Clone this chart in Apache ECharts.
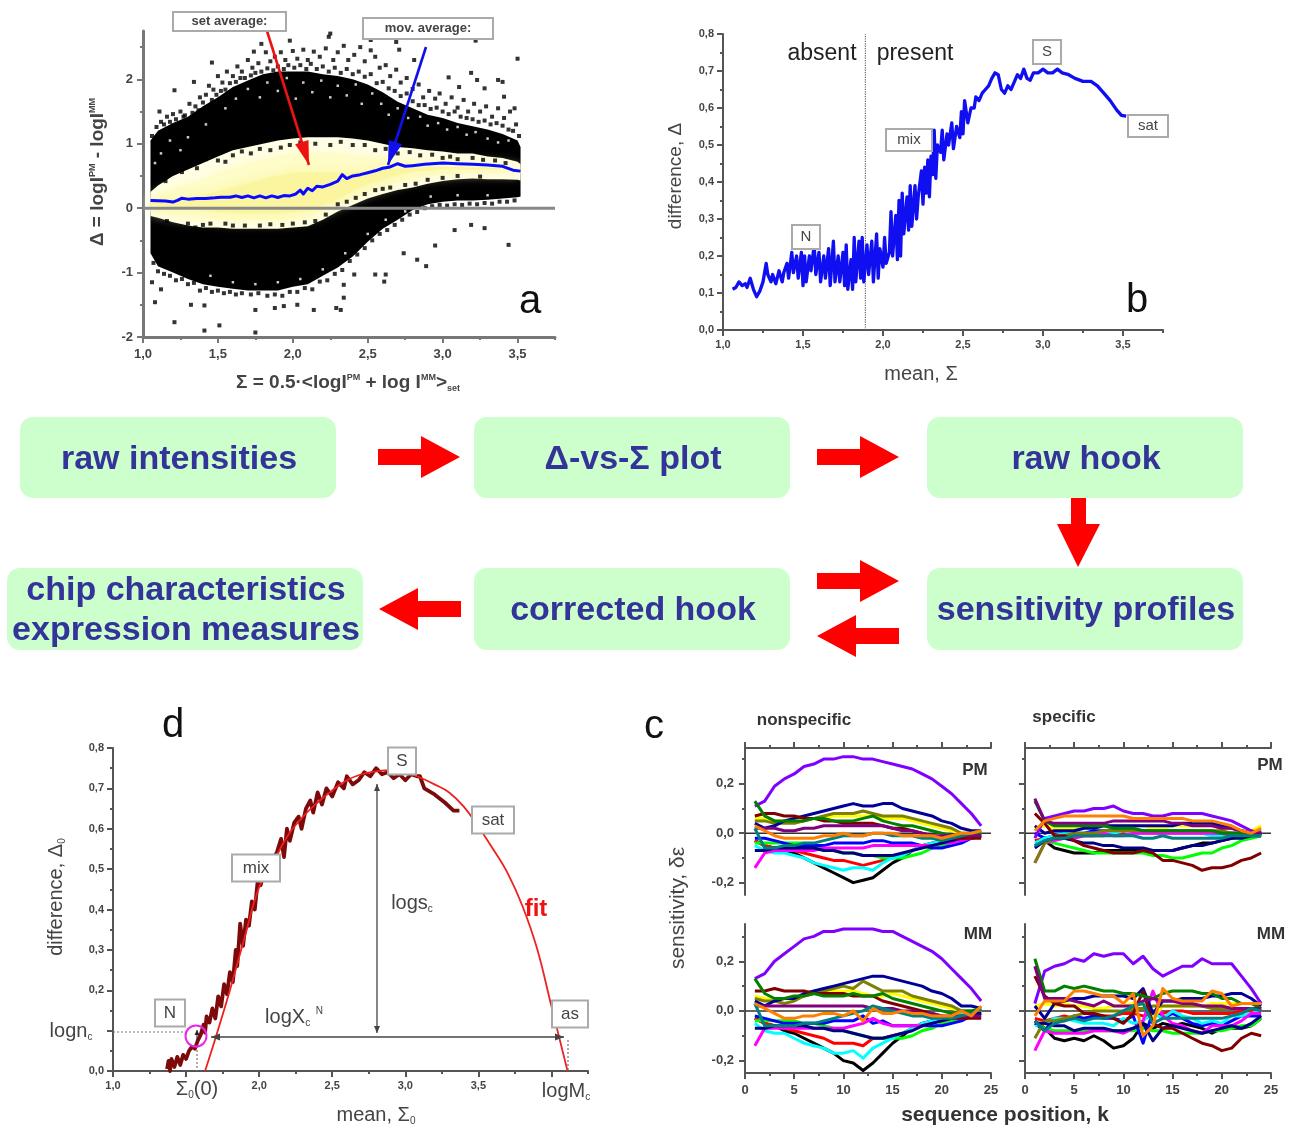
<!DOCTYPE html>
<html><head><meta charset="utf-8">
<script src="https://cdn.jsdelivr.net/npm/echarts@6/dist/echarts.min.js"></script>
<style>html,body{margin:0;background:#fff}#c{width:1291px;height:1129px;filter:blur(.6px)}</style>
</head><body><div id="c"></div>
<script>
// ---------- panel a ----------
const sigmaA=[1.05,1.1,1.2,1.3,1.4,1.5,1.6,1.7,1.8,1.9,2.0,2.1,2.2,2.3,2.4,2.5,2.6,2.7,2.8,2.9,3.0,3.1,3.2,3.3,3.4,3.5,3.52];
const upperOuter=[1.05,1.2,1.32,1.42,1.58,1.72,1.88,1.98,2.08,2.12,2.12,2.12,2.08,2.05,2.0,1.92,1.8,1.65,1.55,1.45,1.4,1.32,1.27,1.22,1.15,1.05,.95];
const upperInner=[.25,.35,.5,.6,.7,.8,.9,.95,1.0,1.05,1.08,1.1,1.1,1.1,1.08,1.05,1.0,.95,.93,.9,.88,.85,.85,.8,.78,.72,.68];
const lowerInner=[-.12,-.15,-.22,-.27,-.3,-.3,-.32,-.32,-.32,-.32,-.3,-.28,-.18,-.05,.05,.15,.22,.28,.32,.38,.42,.45,.46,.45,.45,.44,.43];
const lowerOuter=[-.7,-.9,-1.0,-1.1,-1.18,-1.22,-1.25,-1.28,-1.28,-1.28,-1.22,-1.18,-1.05,-.92,-.75,-.52,-.32,-.18,-.03,.06,.1,.12,.12,.13,.15,.17,.18];
const midTop=[.15,.2,.3,.38,.45,.55,.62,.7,.75,.8,.85,.85,.85,.85,.82,.8,.78,.75,.73,.72,.7,.7,.68,.68,.66,.62,.6];
const midBot=[-.05,-.08,-.12,-.15,-.17,-.18,-.2,-.2,-.2,-.2,-.18,-.15,-.05,.05,.15,.25,.32,.4,.45,.5,.52,.54,.55,.55,.54,.54,.54];
const coreTop=[.1,.12,.14,.16,.2,.26,.32,.38,.45,.5,.55,.55,.55,.55,.55,.58,.6,.62,.62,.64,.64,.64,.63,.63,.61,.58,.56];
const coreBot=[.05,.04,.02,0,-.02,-.05,-.07,-.08,-.08,-.08,-.06,-.03,.04,.14,.27,.37,.44,.52,.56,.58,.6,.6,.6,.6,.6,.57,.55];
const outliersA=[[2.25,2.71],[2.24,2.66],[1.79,2.55],[1.98,2.6],[1.74,2.43],[2.52,2.61],[2.69,2.58],[2.71,2.46],[3.22,2.6],[3.5,2.32],[1.46,2.26],[1.34,1.96],[1.21,1.83],[1.11,1.5],[2.81,2.3],[3.19,2.1],[3.04,2.03],[3.23,1.99],[3.4,1.96],[3.37,1.99],[3.11,1.88],[3.28,1.86],[3.41,1.73],[3.48,1.55],[3.44,-.57],[2.95,-.58],[2.89,-.9],[3.28,-.31],[3.19,-.26],[3.08,-.34],[2.83,-.8],[2.74,-.7],[2.62,-1.03],[2.61,-1.14],[2.55,-1.03],[2.41,-1.03],[2.34,-1.19],[2.34,-1.39],[2.32,-1.58],[2.29,-1.55],[2.14,-1.58],[2.03,-1.5],[1.88,-1.55],[1.94,-1.52],[1.75,-1.58],[1.75,-1.93],[1.51,-1.82],[1.41,-1.9],[1.21,-1.77],[1.08,-1.46],[1.32,-1.5],[1.41,-1.51],[1.12,-1.26],[1.06,-1.15],
[1.12,1.34],[1.16,1.42],[1.2,1.46],[1.25,1.5],[1.28,1.44],[1.31,1.62],[1.35,1.58],[1.38,1.72],[1.42,1.76],[1.44,1.9],[1.47,1.84],[1.5,2.05],[1.53,1.95],[1.56,2.12],[1.6,2.05],[1.63,2.2],[1.66,2.12],[1.7,2.3],[1.73,2.18],[1.77,2.25],[1.82,2.42],[1.85,2.28],[1.88,2.35],[1.92,2.42],[1.95,2.3],[2.0,2.44],[2.03,2.32],[2.07,2.46],[2.1,2.3],[2.14,2.43],[2.18,2.35],[2.22,2.48],[2.27,2.3],[2.3,2.42],[2.34,2.52],[2.37,2.3],[2.41,2.38],[2.45,2.5],[2.48,2.28],[2.52,2.45],[2.55,2.35],[2.58,2.18],[2.62,2.22],[2.65,2.05],[2.69,2.15],[2.72,1.95],[2.76,2.02],[2.8,1.85],[2.84,1.92],[2.87,1.72],[2.91,1.82],[2.95,1.7],[2.98,1.78],[3.02,1.62],[3.06,1.72],[3.1,1.56],[3.14,1.68],[3.17,1.5],[3.21,1.62],[3.25,1.5],[3.29,1.58],[3.33,1.42],[3.37,1.55],[3.41,1.4],[3.45,1.5],[3.49,1.3],
[1.06,1.12],[1.09,1.26],[1.14,1.3],[1.18,1.34],[1.22,1.38],[1.27,1.42],[1.33,1.48],[1.37,1.52],[1.4,1.64],[1.46,1.68],[1.49,1.76],[1.52,1.82],[1.55,1.84],[1.58,1.94],[1.62,1.96],[1.65,2.02],[1.68,2.02],[1.72,2.06],[1.75,2.1],[1.79,2.12],[1.83,2.17],[1.87,2.14],[1.9,2.2],[1.94,2.16],[1.97,2.22],[2.01,2.18],[2.05,2.22],[2.09,2.16],[2.12,2.24],[2.16,2.16],[2.2,2.2],[2.24,2.12],[2.28,2.18],[2.32,2.1],[2.36,2.16],[2.4,2.08],[2.44,2.12],[2.48,2.04],[2.52,2.08],[2.56,1.94],[2.6,1.96],[2.64,1.86],[2.68,1.82],[2.72,1.74],[2.76,1.78],[2.8,1.66],[2.84,1.6],[2.88,1.6],[2.92,1.54],[2.96,1.56],[3.0,1.5],[3.04,1.46],[3.08,1.5],[3.12,1.42],[3.16,1.4],[3.2,1.38],[3.24,1.34],[3.28,1.36],[3.32,1.3],[3.36,1.32],[3.4,1.28],[3.44,1.22],[3.47,1.2],[3.51,1.12],
[1.07,-.85],[1.1,-.98],[1.14,-1.02],[1.18,-1.05],[1.22,-1.12],[1.26,-1.1],[1.3,-1.18],[1.34,-1.16],[1.38,-1.28],[1.42,-1.24],[1.46,-1.3],[1.5,-1.28],[1.54,-1.32],[1.58,-1.3],[1.62,-1.34],[1.66,-1.32],[1.72,-1.34],[1.77,-1.32],[1.83,-1.36],[1.88,-1.34],[1.93,-1.36],[1.98,-1.3],[2.03,-1.3],[2.08,-1.24],[2.13,-1.26],[2.18,-1.14],[2.23,-1.12],[2.28,-1.02],[2.33,-.96],[2.38,-.82],[2.43,-.72],[2.48,-.62],[2.53,-.5],[2.58,-.4],[2.63,-.34],[2.68,-.26],[2.73,-.18],[2.78,-.1],[2.83,-.06],[2.88,0],[2.93,.03],[2.98,.05],[3.03,.04],[3.08,.06],[3.13,.05],[3.18,.07],[3.23,.06],[3.28,.08],[3.33,.07],[3.38,.1],[3.43,.1],[3.48,.12],
[1.1,.5],[1.2,.6],[1.3,.72],[1.36,.62],[1.45,.8],[1.55,.72],[1.6,.82],[1.72,.85],[1.85,.9],[1.98,.98],[2.15,1.0],[2.25,.98],[2.4,.98],[2.55,.9],[2.7,.85],[2.85,.82],[3.0,.78],[3.1,.76],[3.2,.78],[3.35,.74],[1.15,.42],[1.26,.56],[1.42,.76],[1.5,.74],[1.66,.88],[1.78,.92],[1.92,.94],[2.05,1.02],[2.32,1.03],[2.48,.98],[2.62,.92],[2.78,.87],[2.93,.83],[3.05,.8],[3.27,.75],[3.42,.7],
[1.1,-.28],[1.22,-.35],[1.35,-.3],[1.45,-.24],[1.55,-.24],[1.68,-.27],[1.85,-.25],[2.0,-.24],[2.15,-.2],[2.3,.06],[2.42,.16],[2.55,.28],[2.65,.32],[2.75,.36],[2.9,.44],[3.1,.5],[1.16,-.2],[1.3,-.24],[1.4,-.26],[1.6,-.27],[1.78,-.27],[1.93,-.26],[2.08,-.22],[2.22,-.1],[2.36,.1],[2.48,.22],[2.6,.3],[2.82,.38],[3.0,.47],[3.25,.49]];
const gapsA=[[1.3,1.1],[1.42,1.3],[1.55,1.55],[1.62,1.7],[1.7,1.85],[1.78,1.72],[1.83,1.95],[1.9,1.82],[1.96,2.02],[2.02,1.7],[2.07,1.95],[2.13,1.8],[2.19,1.98],[2.25,1.72],[2.3,1.9],[2.36,1.75],[2.42,1.92],[2.46,1.62],[2.53,1.78],[2.59,1.62],[2.64,1.45],[2.7,1.55],[2.77,1.4],[2.85,1.42],[2.9,1.28],[2.97,1.32],[3.03,1.22],[3.1,1.26],[3.16,1.14],[3.22,1.18],[3.3,1.08],[3.37,1.02],[3.44,1.05],[1.45,-1.05],[1.6,-1.15],[1.75,-1.18],[1.9,-1.15],[2.05,-1.1],[2.2,-.95],[2.35,-.7],[2.5,-.4],[2.62,-.18],[2.75,-.05],[2.92,.18],[3.1,.2],[3.3,.2],[1.12,.85],[1.18,1.05],[1.25,.9],[1.08,.7]];
const hookA=[[1.05,.12],[1.1,.115],[1.15,.11],[1.2,.095],[1.23,.12],[1.26,.155],[1.3,.14],[1.36,.15],[1.42,.15],[1.48,.16],[1.52,.17],[1.58,.17],[1.62,.19],[1.66,.165],[1.7,.19],[1.74,.16],[1.78,.19],[1.82,.16],[1.86,.19],[1.9,.165],[1.94,.195],[1.98,.19],[2.02,.22],[2.05,.28],[2.07,.22],[2.1,.31],[2.13,.27],[2.16,.34],[2.2,.33],[2.25,.37],[2.3,.42],[2.33,.52],[2.36,.46],[2.4,.5],[2.45,.52],[2.5,.55],[2.55,.58],[2.6,.62],[2.65,.64],[2.7,.69],[2.75,.65],[2.8,.66],[2.88,.68],[3.0,.7],[3.1,.69],[3.2,.68],[3.3,.67],[3.4,.65],[3.47,.59],[3.52,.575]];
const zeroA=[[1,0],[3.75,0]];
// ---------- panel b ----------
const hookB=[[1.06,.11],[1.08,.115],[1.1,.13],[1.12,.12],[1.14,.125],[1.15,.115],[1.17,.14],[1.19,.11],[1.21,.09],[1.23,.105],[1.25,.13],[1.27,.18],[1.28,.15],[1.3,.13],[1.31,.15],[1.33,.125],[1.35,.16],[1.37,.13],[1.38,.155],[1.4,.18],[1.41,.14],[1.43,.21],[1.44,.155],[1.46,.2],[1.47,.14],[1.49,.21],[1.5,.12],[1.51,.2],[1.52,.13],[1.54,.2],[1.55,.16],[1.57,.23],[1.58,.15],[1.6,.21],[1.61,.13],[1.63,.2],[1.64,.14],[1.66,.22],[1.67,.12],[1.69,.24],[1.7,.13],[1.72,.2],[1.73,.13],[1.75,.21],[1.76,.12],[1.77,.23],[1.78,.11],[1.8,.19],[1.81,.11],[1.82,.25],[1.83,.13],[1.85,.24],[1.86,.14],[1.87,.25],[1.88,.13],[1.9,.23],[1.91,.15],[1.93,.24],[1.94,.13],[1.96,.26],[1.97,.14],[1.98,.22],[2,.17],[2.01,.25],[2.02,.18],[2.04,.21],[2.05,.32],[2.06,.2],[2.08,.31],[2.09,.19],[2.1,.35],[2.11,.2],[2.12,.37],[2.13,.26],[2.15,.36],[2.16,.27],[2.17,.39],[2.18,.28],[2.2,.39],[2.21,.3],[2.22,.36],[2.24,.43],[2.25,.34],[2.26,.44],[2.27,.37],[2.28,.46],[2.29,.36],[2.3,.47],[2.31,.42],[2.32,.54],[2.33,.41],[2.34,.5],[2.36,.48],[2.37,.54],[2.38,.46],[2.4,.53],[2.41,.5],[2.43,.56],[2.44,.49],[2.46,.55],[2.48,.52],[2.49,.59],[2.5,.53],[2.51,.62],[2.53,.56],[2.55,.6],[2.57,.6],[2.58,.63],[2.6,.62],[2.62,.64],[2.64,.65],[2.66,.66],[2.68,.68],[2.7,.695],[2.72,.69],[2.74,.65],[2.76,.64],[2.78,.66],[2.8,.65],[2.82,.67],[2.84,.69],[2.86,.68],[2.88,.705],[2.9,.68],[2.92,.675],[2.94,.695],[2.97,.695],[3,.705],[3.03,.695],[3.06,.695],[3.09,.705],[3.12,.695],[3.16,.69],[3.2,.68],[3.25,.672],[3.3,.672],[3.34,.66],[3.38,.64],[3.42,.62],[3.46,.595],[3.49,.58],[3.52,.578]];
const presentLine=[[1.89,0],[1.89,.8]];
// ---------- panel d ----------
const hookD=[[1.37,.005],[1.38,.025],[1.39,0],[1.4,.03],[1.42,.01],[1.44,.035],[1.46,.015],[1.48,.04],[1.5,.03],[1.52,.05],[1.54,.06],[1.56,.055],[1.58,.075],[1.6,.09],[1.62,.115],[1.63,.095],[1.64,.135],[1.66,.12],[1.68,.155],[1.7,.13],[1.72,.185],[1.74,.16],[1.76,.215],[1.78,.19],[1.8,.245],[1.82,.22],[1.84,.3],[1.85,.26],[1.87,.365],[1.89,.31],[1.91,.375],[1.93,.36],[1.95,.42],[1.97,.4],[1.99,.47],[2.01,.46],[2.03,.49],[2.06,.51],[2.1,.53],[2.12,.54],[2.15,.575],[2.17,.53],[2.19,.6],[2.21,.57],[2.24,.615],[2.27,.63],[2.29,.6],[2.32,.65],[2.35,.67],[2.37,.64],[2.4,.69],[2.43,.66],[2.46,.7],[2.5,.68],[2.54,.715],[2.58,.7],[2.6,.73],[2.64,.71],[2.68,.72],[2.72,.74],[2.76,.73],[2.8,.75],[2.84,.735],[2.88,.74],[2.92,.725],[2.96,.735],[3,.72],[3.04,.735],[3.08,.73],[3.1,.73],[3.13,.7],[3.2,.685],[3.27,.665],[3.33,.645],[3.37,.645]];
const fitD=[[1.63,0],[1.7,.08],[1.8,.2],[1.9,.33],[2,.455],[2.1,.52],[2.2,.585],[2.3,.63],[2.4,.665],[2.5,.695],[2.6,.72],[2.7,.735],[2.8,.742],[2.9,.745],[3,.74],[3.1,.727],[3.2,.71],[3.3,.69],[3.4,.655],[3.5,.605],[3.6,.55],[3.7,.49],[3.8,.41],[3.9,.305],[4,.16],[4.11,0]];
// ---------- panel c (values in 0.01 units), k = 1..24 ----------
const positions=[1,2,3,4,5,6,7,8,9,10,11,12,13,14,15,16,17,18,19,20,21,22,23,24];
const lineNames=['black','red','lime','blue','cyan','magenta','yellow','olive','navy2','navy1','violet','wine','green','plum','teal','orange'];
const lineColors={black:'#000000',red:'#ff0000',lime:'#00ff00',blue:'#0000ff',cyan:'#00ffff',magenta:'#ff00ff',yellow:'#ffff00',olive:'#808000',navy2:'#000080',navy1:'#000099',violet:'#8000ff',wine:'#800000',green:'#008000',plum:'#800080',teal:'#008080',orange:'#ff8000'};
const pmNonspecific={
violet:[11,13,19,22,24,27,28,30,30,31,31,30,30,29,28,27,26,24,22,19,16,12,8,3],
navy1:[4,2,3,5,6,7,8,9,10,11,12,11,11,12,12,10,9,8,7,5,4,2,1,1],
olive:[5,5,4,4,4,5,6,7,8,8,8,9,8,7,7,7,6,5,4,3,2,0,0,0],
yellow:[6,6,5,5,5,5,6,6,7,7,7,7,7,6,6,6,5,4,3,2,1,0,0,0],
green:[13,7,5,5,5,5,6,6,5,5,5,6,7,5,4,3,3,2,1,0,-1,-1,0,0],
wine:[7,8,8,7,7,6,6,5,5,4,4,4,4,3,2,2,1,0,-1,-2,-2,-2,-2,-2],
plum:[2,2,2,1,1,2,2,3,3,3,3,3,3,3,2,1,1,0,-1,-1,-1,-1,-1,-1],
orange:[3,1,-1,-2,-2,-2,-2,-1,-1,0,-1,-1,0,0,0,-1,-1,-1,-1,-2,-1,0,0,1],
teal:[2,-6,-6,-5,-5,-4,-4,-3,-2,-1,-1,-1,0,0,-1,-1,-1,-2,-2,-3,-2,-1,0,1],
blue:[-2,-2,-3,-4,-5,-5,-5,-5,-4,-4,-4,-4,-3,-3,-4,-4,-4,-5,-6,-6,-5,-4,-2,-1],
magenta:[-14,-8,-7,-7,-7,-7,-7,-6,-6,-6,-6,-6,-5,-5,-5,-5,-5,-5,-5,-4,-4,-3,-2,-1],
navy2:[-7,-7,-6,-6,-6,-6,-6,-7,-7,-8,-8,-9,-9,-9,-9,-8,-7,-6,-5,-4,-3,-2,-1,-1],
lime:[-4,-4,-4,-4,-4,-4,-5,-6,-7,-8,-8,-9,-9,-10,-10,-10,-9,-8,-6,-5,-4,-3,-2,-1],
red:[-3,-5,-6,-7,-7,-8,-9,-10,-11,-11,-12,-13,-12,-11,-10,-9,-7,-5,-4,-3,-2,-2,-1,-1],
cyan:[-5,-7,-8,-8,-9,-10,-12,-13,-14,-15,-14,-14,-15,-12,-10,-9,-7,-5,-4,-3,-2,-1,-1,0],
black:[-3,-5,-6,-7,-8,-10,-12,-14,-16,-18,-20,-19,-18,-15,-12,-10,-7,-5,-4,-3,-2,-2,-1,0]};
const mmNonspecific={
violet:[13,15,20,23,26,29,30,32,32,33,33,33,33,32,32,30,28,26,24,21,17,13,9,4],
navy1:[4,2,4,5,5,7,8,9,10,11,12,13,14,14,13,12,11,10,8,7,5,2,2,1],
olive:[5,4,4,3,4,6,7,8,9,10,9,12,10,8,8,8,6,5,4,3,2,0,0,0],
yellow:[6,5,5,5,5,6,7,7,8,8,8,7,6,6,7,6,5,4,3,2,1,0,-1,0],
green:[13,7,5,5,6,6,7,6,6,6,7,6,6,7,5,4,3,2,1,0,-1,0,0,1],
wine:[8,8,9,8,8,8,7,7,7,7,6,6,6,4,3,2,1,0,-1,-2,-3,-3,-3,-3],
plum:[2,2,2,2,2,2,2,2,2,2,2,2,1,1,1,0,0,-1,-1,-2,-2,-2,-2,-2],
orange:[3,1,-1,-3,-3,-2,-2,-1,-1,-2,0,-4,1,-1,-1,0,-1,-1,-2,-2,-2,0,-2,2],
teal:[3,-6,-6,-6,-6,-5,-5,-4,-3,-2,-1,0,2,1,0,-1,-2,-2,-3,-3,-3,-2,-1,1],
blue:[-2,-3,-4,-5,-5,-5,-5,-5,-4,-4,-4,-2,-5,-4,-6,-6,-6,-6,-6,-6,-5,-4,-2,-1],
magenta:[-14,-7,-7,-7,-7,-7,-7,-7,-7,-7,-6,-5,-3,-5,-6,-6,-6,-6,-5,-4,-3,-3,-2,-2],
navy2:[-7,-7,-6,-6,-6,-6,-7,-7,-8,-8,-9,-10,-11,-11,-10,-9,-8,-6,-5,-4,-3,-2,-1,-1],
lime:[-4,-4,-4,-4,-4,-5,-5,-6,-7,-8,-9,-10,-11,-11,-11,-11,-10,-8,-7,-5,-4,-3,-2,-1],
red:[-3,-5,-6,-7,-8,-9,-10,-11,-13,-13,-13,-14,-11,-11,-10,-9,-7,-5,-4,-3,-2,-2,-1,-1],
cyan:[-5,-8,-9,-9,-11,-13,-14,-15,-17,-17,-16,-19,-15,-13,-11,-9,-7,-5,-4,-3,-2,-1,0,0],
black:[-3,-5,-6,-8,-9,-11,-13,-15,-17,-20,-21,-24,-21,-17,-13,-10,-7,-5,-4,-3,-2,-2,-1,0]};
const pmSpecific={
violet:[-2,6,7,8,9,9,10,10,11,9,8,8,7,7,8,8,8,8,7,6,5,3,1,0],
orange:[1,5,6,7,7,7,7,7,7,7,6,6,6,6,6,6,5,5,5,4,3,1,0,2],
green:[13,5,3,3,3,3,3,3,2,2,2,1,1,1,1,1,1,1,1,0,0,0,0,-1],
wine:[8,4,-1,-1,-3,-5,-6,-7,-8,-8,-8,-7,-8,-11,-11,-12,-13,-15,-14,-14,-13,-11,-10,-8],
plum:[14,5,4,4,4,4,4,4,5,5,5,5,5,5,4,4,3,3,3,2,2,1,0,0],
yellow:[2,3,2,2,2,3,3,3,3,3,3,3,2,2,3,3,3,3,3,2,2,1,1,3],
navy1:[3,0,1,1,1,2,2,3,3,3,3,3,3,3,3,4,4,4,4,3,2,1,0,0],
blue:[0,-2,-1,0,0,0,1,1,1,1,1,1,1,1,1,1,1,0,0,0,0,0,0,0],
cyan:[-4,-2,-1,0,0,0,0,0,0,1,0,0,0,0,0,0,0,0,-1,-1,-1,0,0,0],
magenta:[-12,-4,-3,-2,-2,-1,-1,0,-1,-1,0,0,0,0,0,0,0,0,0,0,-1,-1,0,0],
teal:[-5,-3,-2,-2,-1,-1,-1,-1,-1,-1,-1,-2,-2,-1,-2,-2,-2,-2,-2,-2,-1,-1,-1,-1],
navy2:[-6,-3,-2,-2,-3,-4,-4,-5,-5,-6,-6,-6,-7,-7,-7,-6,-5,-5,-4,-3,-2,-2,-1,-1],
black:[-5,-3,-6,-7,-8,-8,-8,-7,-7,-7,-7,-7,-7,-7,-7,-6,-5,-4,-4,-3,-2,-1,-1,0],
lime:[-5,-3,-4,-5,-6,-7,-8,-8,-8,-8,-8,-8,-9,-9,-10,-10,-9,-8,-8,-6,-5,-3,-2,-1],
olive:[-12,-4,-2,-1,0,0,0,1,1,1,1,1,1,1,1,1,1,1,1,1,0,0,0,1],
red:[-3,-2,-2,-1,-1,-1,-1,-1,0,0,0,0,0,0,0,0,0,0,0,0,0,0,0,0]};
const mmSpecific={
violet:[3,16,18,19,21,20,23,22,23,23,19,22,17,14,16,18,18,21,19,19,19,14,9,3],
green:[21,8,8,10,9,10,9,8,8,7,7,6,5,7,8,8,8,7,7,5,5,3,3,1],
orange:[-2,4,4,4,8,8,7,6,6,3,7,-10,-6,9,5,4,4,4,8,7,2,3,3,3],
wine:[14,6,3,2,2,-1,-1,-2,-3,-5,-1,8,-5,-7,-7,-9,-11,-13,-14,-16,-15,-11,-9,-10],
plum:[18,5,5,5,4,3,2,4,2,2,2,4,5,4,4,3,3,2,2,2,1,1,1,1],
navy1:[2,-3,3,4,5,5,6,6,6,6,5,9,-1,4,4,5,5,5,6,6,7,7,5,2],
blue:[-5,-8,-3,-4,-2,-3,-2,-3,-3,-4,-2,-13,0,-3,-1,-3,-5,-6,-5,-6,-4,-2,-2,-2],
cyan:[-6,-5,-3,-3,-4,-5,-5,-5,-6,-3,-5,-4,-1,-3,0,-2,-3,-5,-4,-5,-2,-2,-1,0],
magenta:[-16,-8,-9,-9,-9,-9,-8,-8,-8,-9,-7,-4,8,-2,-5,-6,-8,-9,-6,-6,-6,-4,-1,-1],
navy2:[-5,-5,-6,-6,-8,-7,-7,-7,-8,-8,-7,-5,-12,-7,-6,-7,-8,-9,-8,-7,-6,-7,-5,-2],
black:[-4,-7,-11,-12,-11,-12,-10,-12,-15,-14,-11,-5,-7,-5,-6,-5,-6,-7,-9,-7,-7,-7,-6,-3],
teal:[-4,-8,-5,-4,-3,-4,-3,-3,-2,0,2,3,-5,-3,-3,-3,-3,-3,-3,-3,-2,-1,1,0],
lime:[-5,-7,-8,-8,-8,-8,-8,-8,-8,-8,-8,-7,-8,-8,-9,-9,-9,-9,-8,-8,-7,-6,-6,-3],
red:[-3,-4,-3,-2,-3,-3,-2,-2,-2,-1,-1,-2,-2,-1,0,0,-1,-1,-1,-1,-1,0,0,1],
yellow:[2,3,2,3,2,2,1,1,2,2,3,3,-3,2,2,2,2,2,3,3,3,3,3,3],
olive:[-11,-4,-4,-3,-2,-1,0,0,0,0,1,1,2,2,2,2,2,2,1,1,1,1,1,1]};
// ---------- ticks ----------
const ticksA=[1,1.5,2,2.5,3,3.5],minorA=[1.25,1.75,2.25,2.75,3.25,3.75];
const ticksAy=[-2,-1,0,1,2],minorAy=[-1.5,-.5,.5,1.5,2.5];
const ticksBy=[0,.1,.2,.3,.4,.5,.6,.7,.8],minorBy=[.05,.15,.25,.35,.45,.55,.65,.75];
const ticksDx=[1,1.5,2,2.5,3,3.5,4],labelsDx=[1,2,2.5,3,3.5],minorDx=[1.25,1.75,2.25,2.75,3.25,3.75,4.25];
const labelsDy=[0,.2,.3,.4,.5,.6,.7,.8];
const ticksC=[-.2,0,.2],minorC=[-.1,.1,.3];
const ticksK=[0,5,10,15,20,25],minorK=[2.5,7.5,12.5,17.5,22.5];
// ---------- helpers ----------
const FONT='"Liberation Sans",Arial,sans-serif';
const comma=v=>v.toFixed(1).replace('.',',');
const grid=[],xAxis=[],yAxis=[],series=[];
function panel(box,xc,yc,AX,AW){
  AX=AX||'#555';AW=AW||2;
  const g=grid.length;
  grid.push({left:box[0],top:box[1],width:box[2]-box[0],height:box[3]-box[1]});
  const ix=xAxis.length,iy=yAxis.length;
  const base=(c,pos)=>({gridIndex:g,type:'value',min:c.min,max:c.max,position:pos,scale:true,splitLine:{show:false},silent:true});
  xAxis.push({...base(xc,xc.pos||'bottom'),axisLine:{show:true,onZero:false,lineStyle:{color:AX,width:AW}},
    axisTick:{show:true,customValues:xc.major,length:6,lineStyle:{color:AX,width:2}},
    axisLabel:xc.labels?{show:true,customValues:xc.labels,formatter:xc.fmt||(v=>comma(v)),fontFamily:FONT,fontWeight:'bold',fontSize:xc.fs||11,color:'#444',margin:xc.margin||9}:{show:false}});
  xAxis.push({...base(xc,xc.pos||'bottom'),axisLine:{show:false,onZero:false},axisTick:{show:true,customValues:xc.minor,length:3,lineStyle:{color:AX,width:2}},axisLabel:{show:false}});
  yAxis.push({...base(yc,'left'),axisLine:{show:true,onZero:false,lineStyle:{color:AX,width:AW}},
    axisTick:{show:true,customValues:yc.major,length:6,lineStyle:{color:AX,width:2}},
    axisLabel:yc.labels?{show:true,customValues:yc.labels,formatter:yc.fmt||(v=>comma(v)),fontFamily:FONT,fontWeight:'bold',fontSize:yc.fs||11,color:'#444',margin:yc.margin||9}:{show:false}});
  yAxis.push({...base(yc,'left'),axisLine:{show:false,onZero:false},axisTick:{show:true,customValues:yc.minor,length:3,lineStyle:{color:AX,width:2}},axisLabel:{show:false}});
  return {xAxisIndex:ix,yAxisIndex:iy};
}
function line(ax,name,data,color,width,extra,smooth){
  series.push({type:'line',name,...ax,data,showSymbol:false,symbol:'none',clip:true,silent:true,animation:false,smooth:smooth||false,
    lineStyle:{color,width,join:'round',...(extra||{})}});
}
function band(ax,name,xs,top,bot,color,soft){
  const rows=xs.map((x,i)=>[x,top[i],bot[i]]);
  series.push({type:'custom',name,...ax,data:rows,encode:{x:0,y:[1,2]},animation:false,silent:true,clip:true,
    renderItem:(p,api)=>{
      if(p.dataIndex!==0)return null;
      const pts=[...rows.map(r=>api.coord([r[0],r[1]])),...rows.slice().reverse().map(r=>api.coord([r[0],r[2]]))];
      return {type:'polygon',shape:{points:pts},style:{fill:color,shadowBlur:soft||0,shadowColor:color}};
    }});
}
// ---------- panels ----------
const axA=panel([143,31,555,337],{min:1,max:3.75,major:ticksA,minor:minorA,labels:ticksA,fs:13,margin:11},{min:-2,max:2.75,major:ticksAy,minor:minorAy,labels:ticksAy,fmt:v=>String(v),fs:13,margin:10},'#777',3);
band(axA,'cloud',sigmaA,upperOuter,lowerOuter,'#000');
band(axA,'density low',sigmaA,upperInner,lowerInner,'#fffee6');
band(axA,'density mid',sigmaA,midTop,midBot,'#fefcc8',12);
band(axA,'density high',sigmaA,coreTop,coreBot,'#fbf5a0',12);
series.push({type:'scatter',name:'probe sets',...axA,data:outliersA,symbol:'rect',symbolSize:4,itemStyle:{color:'#000'},silent:true,animation:false});
series.push({type:'scatter',name:'gaps',...axA,data:gapsA,symbol:'rect',symbolSize:2.5,itemStyle:{color:'#fff'},silent:true,animation:false});
line(axA,'zero',zeroA,'#888',3);
line(axA,'mov. average',hookA,'#0a0aff',3);

const axB=panel([723,34,1163,330],{min:1,max:3.75,major:ticksA,minor:minorA,labels:ticksA},{min:0,max:.8,major:ticksBy,minor:minorBy,labels:ticksBy});
line(axB,'present limit',presentLine,'#666',1.2,{type:'dotted'});
line(axB,'raw hook',hookB,'#0f0ff2',3.3);

const axD=panel([113,748,588,1071],{min:1,max:4.25,major:ticksDx,minor:minorDx,labels:labelsDx},{min:0,max:.8,major:ticksBy,minor:minorBy,labels:labelsDy});
line(axD,'corrected hook',hookD,'#7d0a0a',3.8);
line(axD,'fit',fitD,'#f02020',1.8,null,.4);

const ckTop={min:0,max:25,major:ticksK,minor:minorK,pos:'top'},ckBot={min:0,max:25,major:ticksK,minor:minorK,labels:ticksK,fmt:v=>String(v),margin:11,fs:13};
const cyTop=l=>({min:-.25,max:.345,major:ticksC,minor:minorC,labels:l?ticksC:null,margin:11,fs:13});
const cyBot=l=>({min:-.25,max:.35,major:ticksC,minor:minorC,labels:l?ticksC:null,margin:11,fs:13});
function profiles(ax,values){
  line(ax,'zero',[[0,0],[25,0]],'#333',1.5);
  lineNames.forEach(n=>line(ax,n,positions.map((k,i)=>[k,values[n][i]/100]),lineColors[n],3));
}
profiles(panel([745,748,991,895],ckTop,cyTop(true)),pmNonspecific);
profiles(panel([745,924,991,1073],ckBot,cyBot(true)),mmNonspecific);
profiles(panel([1025,748,1271,895],ckTop,cyTop(false)),pmSpecific);
profiles(panel([1025,924,1271,1073],ckBot,cyBot(false)),mmSpecific);
// ---------- annotations ----------
const gfx=[];
function txt(x,y,text,o){o=o||{};
  gfx.push({type:'text',x,y,rotation:o.rot||0,z:20,style:{text,fontFamily:FONT,fontSize:o.fs||16,fontWeight:o.w||'normal',fill:o.c||'#444',align:o.a||'center',verticalAlign:'middle',rich:o.rich}});
}
function boxed(cx,cy,w,h,text,fs,wt){
  gfx.push({type:'rect',z:15,shape:{x:cx-w/2,y:cy-h/2,width:w,height:h},style:{fill:'#fff',stroke:'#aaa',lineWidth:2}});
  txt(cx,cy,text,{fs:fs||15,w:wt,c:'#444'});
}
function arrow(x1,y1,x2,y2,c,lw,hl,hw,both){
  const a=Math.atan2(y2-y1,x2-x1),ca=Math.cos(a),sa=Math.sin(a);
  gfx.push({type:'line',z:14,shape:{x1,y1,x2,y2},style:{stroke:c,lineWidth:lw}});
  const head=(x,y,s)=>gfx.push({type:'polygon',z:14,shape:{points:[[x,y],[x-s*hl*ca-hw*sa,y-s*hl*sa+hw*ca],[x-s*hl*ca+hw*sa,y-s*hl*sa-hw*ca]]},style:{fill:c}});
  head(x2,y2,1); if(both)head(x1,y1,-1);
}
function blockH(x0,x1,cy,dir){
  const tip=dir>0?x1:x0,tail=dir>0?x0:x1,neck=tip-dir*39;
  gfx.push({type:'polygon',z:12,shape:{points:[[tail,cy-8],[neck,cy-8],[neck,cy-21],[tip,cy],[neck,cy+21],[neck,cy+8],[tail,cy+8]]},style:{fill:'#ff0000'}});
}
const flowBoxes=[[20,417,316,81,'raw intensities'],[474,417,316,81,'Δ-vs-Σ plot'],[927,417,316,81,'raw hook'],[474,568,316,82,'corrected hook'],[927,568,316,82,'sensitivity profiles']];
flowBoxes.forEach(b=>{
  gfx.push({type:'rect',z:10,shape:{x:b[0],y:b[1],width:b[2],height:b[3],r:13},style:{fill:'#ccffcc'}});
  txt(b[0]+b[2]/2+1,b[1]+b[3]/2+2,b[4],{fs:34,w:'bold',c:'#333399'});
});
gfx.push({type:'rect',z:10,shape:{x:7,y:568,width:356,height:82,r:13},style:{fill:'#ccffcc'}});
txt(186,591,'chip characteristics',{fs:34,w:'bold',c:'#333399'});
txt(186,631,'expression measures',{fs:34,w:'bold',c:'#333399'});
blockH(378,460,457,1);blockH(817,899,457,1);blockH(817,899,581,1);blockH(817,899,636,-1);blockH(379,461,609,-1);
gfx.push({type:'polygon',z:12,shape:{points:[[1071,498],[1071,524],[1057,524],[1078,567],[1100,524],[1086,524],[1086,498]]},style:{fill:'#ff0000'}});
// panel letters
txt(530,302,'a',{fs:40,c:'#111'});txt(1137,301,'b',{fs:40,c:'#111'});txt(654,727,'c',{fs:40,c:'#111'});txt(173,726,'d',{fs:40,c:'#111'});
// panel a
boxed(229.5,21.5,113,19,'set average:',13,'bold');boxed(428,28.5,130,21,'mov. average:',13,'bold');
arrow(267,31,309,165,'#ee1111',2.6,24,7);arrow(426,47,388,165,'#1010ee',2.6,24,7);
const richB={b:{fontFamily:FONT,fontSize:19,fontWeight:'bold',fill:'#444'},s:{fontFamily:FONT,fontSize:9,fontWeight:'bold',fill:'#444',padding:[0,0,10,0]},d:{fontFamily:FONT,fontSize:9,fontWeight:'bold',fill:'#444',padding:[11,0,0,0]}};
txt(98,172,'{b|Δ = logI}{s|PM}{b| - logI}{s|MM}',{rot:Math.PI/2,rich:richB});
txt(348,383,'{b|Σ = 0.5·<logI}{s|PM}{b| + log I}{s|MM}{b|>}{d|set}',{rich:richB});
// panel b
txt(822,54,'absent',{fs:23,c:'#222'});txt(915,54,'present',{fs:23,c:'#222'});
boxed(806,237,28,24,'N');boxed(1047,52,28,24,'S');boxed(909,140,46,22,'mix');boxed(1148,126,40,22,'sat');
txt(676,176,'difference, Δ',{fs:19,rot:Math.PI/2});txt(921,374,'mean, Σ',{fs:20});
// panel d
const richD={t:{fontFamily:FONT,fontSize:20,fill:'#444'},d:{fontFamily:FONT,fontSize:10,fill:'#444',padding:[12,0,0,0]},s:{fontFamily:FONT,fontSize:10,fill:'#444',padding:[0,0,12,0]}};
boxed(402,761,28,27,'S',17);boxed(493,820,42,27,'sat',17);boxed(256,868,48,27,'mix',17);boxed(170,1013,30,27,'N',17);boxed(570,1014,36,27,'as',17);
txt(412,903,'{t|logs}{d|c}',{rich:richD});txt(294,1017,'{t|logX}{d|c}{s|  N}',{rich:richD});
txt(71,1031,'{t|logn}{d|c}',{rich:richD});txt(536,909,'fit',{fs:24,w:'bold',c:'#ee1111'});
txt(197,1089,'{t|Σ}{d|0}{t|(0)}',{rich:richD});txt(566,1091,'{t|logM}{d|c}',{rich:richD});
txt(56,897,'{t|difference, Δ}{d|0}',{rot:Math.PI/2,rich:richD});txt(376,1115,'{t|mean, Σ}{d|0}',{rich:richD});
arrow(377,1033,377,784,'#444',1.3,7,3,true);arrow(211,1037,564,1037,'#444',1.5,9,3.5,true);
gfx.push({type:'line',z:14,shape:{x1:113,y1:1032,x2:186,y2:1032},style:{stroke:'#777',lineWidth:1.2,lineDash:[2,2]}});
gfx.push({type:'line',z:14,shape:{x1:197,y1:1046,x2:197,y2:1071},style:{stroke:'#777',lineWidth:1.2,lineDash:[2,2]}});
gfx.push({type:'line',z:14,shape:{x1:568,y1:1040,x2:568,y2:1071},style:{stroke:'#777',lineWidth:1.2,lineDash:[2,2]}});
arrow(197,1040,197,1030,'#222',1,5,2.5);
gfx.push({type:'circle',z:14,shape:{cx:196,cy:1036,r:10.5},style:{fill:'none',stroke:'#ee22ee',lineWidth:2}});
// panel c
const cb={fs:17,w:'bold',c:'#333'};
txt(804,720,'nonspecific',cb);txt(1064,717,'specific',cb);
txt(975,770,'PM',cb);txt(978,934,'MM',cb);txt(1270,765,'PM',cb);txt(1271,934,'MM',cb);
txt(678,908,'sensitivity, δε',{fs:21,rot:Math.PI/2});
txt(1005,1115,'sequence position, k',{fs:21,w:'bold',c:'#333'});

const chart=echarts.init(document.getElementById('c'),null,{renderer:'canvas'});
chart.setOption({animation:false,backgroundColor:'#fff',grid,xAxis,yAxis,series,graphic:{elements:gfx}});
</script></body></html>
